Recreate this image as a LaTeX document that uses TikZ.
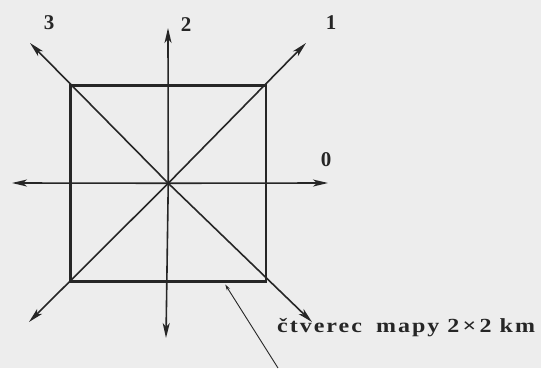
\documentclass[tikz,border=0pt]{standalone}
\usepackage{fontspec}
\setmainfont{Liberation Serif}
\newfontfamily\capfont[FakeStretch=1.2,LetterSpace=10]{Liberation Serif}
\usetikzlibrary{arrows.meta}
\definecolor{paper}{HTML}{EDEDED}
\definecolor{ink}{HTML}{262626}
\begin{document}
\begin{tikzpicture}[x=1pt,y=1pt,
  ray/.style={draw=ink, line width=1.6pt, -{Stealth[length=15pt,width=7pt,inset=4pt]}},
  frame/.style={draw=ink, line width=2.5pt, minimum width=195.5pt, minimum height=196pt, inner sep=0pt},
  num/.style={font=\fontsize{21}{21}\selectfont\bfseries, text=ink, inner sep=0pt},
  capt/.style={font=\capfont\fontsize{20}{20}\selectfont\bfseries, text=ink, inner sep=0pt, anchor=west},
  ptr/.style={draw=ink, line width=0.9pt, {Stealth[length=6pt,width=3.5pt]}-}]
\fill[paper] (0,0) rectangle (541,368);
\useasboundingbox (0,0) rectangle (541,368);
\coordinate (c) at (168.25,184.75);
\node[frame] (sq) at (c) {};
% arrow tips
\coordinate (t0) at (328,185);
\coordinate (t1) at (306,325);
\coordinate (t2) at (168,340);
\coordinate (t3) at (30,325);
\coordinate (t4) at (12,185);
\coordinate (t5) at (29,46);
\coordinate (t6) at (166,30);
\coordinate (t7) at (312,46);
\foreach \i in {0,...,7} \draw[ray] (c) -- (t\i);
% labels
\node[num] (l0) at (326,208) {0};
\node[num] (l1) at (331,345) {1};
\node[num] (l2) at (186,343) {2};
\node[num] (l3) at (49,345) {3};
% pointer and caption
\coordinate (pa) at ([xshift=57pt,yshift=-2pt]sq.south);
\coordinate (pb) at (278,0);
\draw[ptr] (pa) -- (pb);
\node[capt] (cap) at (277,40) {čtverec\hspace{6pt} mapy 2\,×\,2 km};
\end{tikzpicture}
\end{document}
